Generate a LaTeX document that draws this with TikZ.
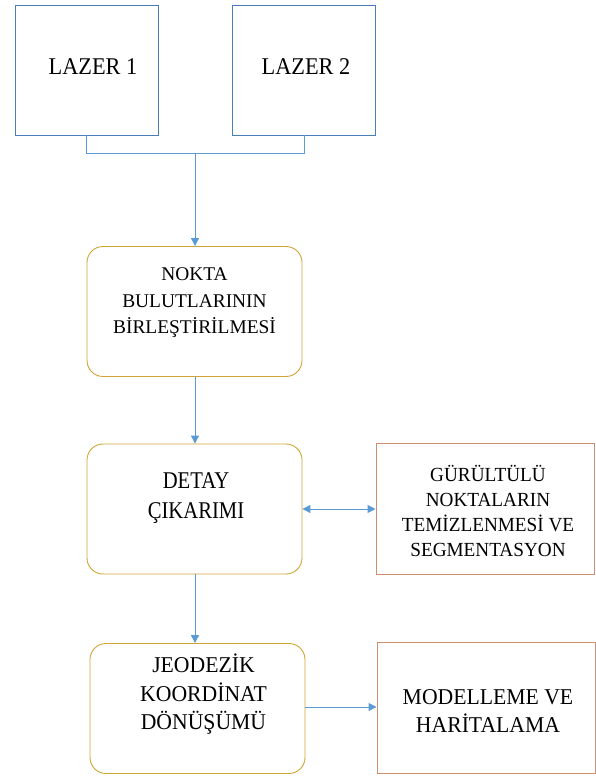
\documentclass[tikz,border=0pt]{standalone}
\usepackage{fontspec}
\setmainfont{Liberation Serif}[FakeStretch=0.96]
\newfontfamily\lazfont{Liberation Serif}[FakeStretch=0.93]
\newfontfamily\detfont{Liberation Serif}[FakeStretch=0.86]
\newfontfamily\nokfont{Liberation Serif}[FakeStretch=1.0]
\usetikzlibrary{arrows.meta}
\definecolor{boxblue}{HTML}{4A7EBB}
\definecolor{lineblue}{HTML}{5B9BD5}
\definecolor{gold}{HTML}{D0A535}
\definecolor{salmon}{HTML}{CF8E6D}
\tikzset{
  sq/.style={draw=boxblue, line width=0.8pt, minimum width=143pt, minimum height=130pt, inner sep=0pt},
  rbox/.style={draw=gold, line width=0.9pt, rounded corners=16pt, minimum width=215pt, minimum height=130pt, inner sep=0pt},
  obox/.style={draw=salmon, line width=1pt, minimum width=218pt, minimum height=131pt, inner sep=0pt},
  txt/.style={align=center, inner sep=0pt},
  conn/.style={draw=lineblue, line width=1pt},
  arr/.style={conn, -{Triangle[length=8pt,width=8pt]}},
  darr/.style={conn, {Triangle[length=8pt,width=8pt]}-{Triangle[length=8pt,width=8pt]}}
}
\begin{document}
\begin{tikzpicture}[x=1pt,y=-1pt]
\useasboundingbox (0,0) rectangle (595,776);
\node[sq] (l1) at (86.5,70) {};
\node[sq] (l2) at (304,70) {};
\node[txt, font=\lazfont\fontsize{24}{30}\selectfont] (l1t) at (93,67) {LAZER 1};
\node[txt, font=\lazfont\fontsize{24}{30}\selectfont] (l2t) at (306,67) {LAZER 2};

\node[rbox] (b1) at (194.5,311.5) {};
\node[txt, font=\nokfont\fontsize{19.4}{26.5}\selectfont] (b1t) at (194.5,303) {NOKTA\\BULUTLARININ\\BİRLEŞTİRİLMESİ};

\node[rbox] (b2) at (194.5,509) {};
\node[txt, font=\detfont\fontsize{24}{30}\selectfont] (b2t) at (196,498) {DETAY\\ÇIKARIMI};

\node[rbox] (b3) at (197.5,708.5) {};
\node[txt, font=\fontsize{22.6}{28.5}\selectfont] (b3t) at (203.5,694.5) {JEODEZİK\\KOORDİNAT\\DÖNÜŞÜMÜ};

\node[obox] (r1) at (485,509) {};
\node[txt, font=\fontsize{20}{25}\selectfont] (r1t) at (488,511) {GÜRÜLTÜLÜ\\NOKTALARIN\\TEMİZLENMESİ VE\\SEGMENTASYON};

\node[obox] (r2) at (486,707.5) {};
\node[txt, font=\fontsize{22.6}{28}\selectfont] (r2t) at (488,711) {MODELLEME VE\\HARİTALAMA};

\coordinate (j) at (195,153);
\draw[conn] (l1.south) -- (l1.south |- j) -- (l2.south |- j) -- (l2.south);
\draw[arr] (j) -- (b1.north -| j);
\draw[arr] (b1.south -| j) -- (b2.north -| j);
\draw[arr] (b2.south -| j) -- (b3.north -| j);
\draw[darr] (b2.east |- 0,509) -- (r1.west |- 0,509);
\draw[arr] (b3.east |- 0,707) -- (r2.west |- 0,707);
\end{tikzpicture}
\end{document}
